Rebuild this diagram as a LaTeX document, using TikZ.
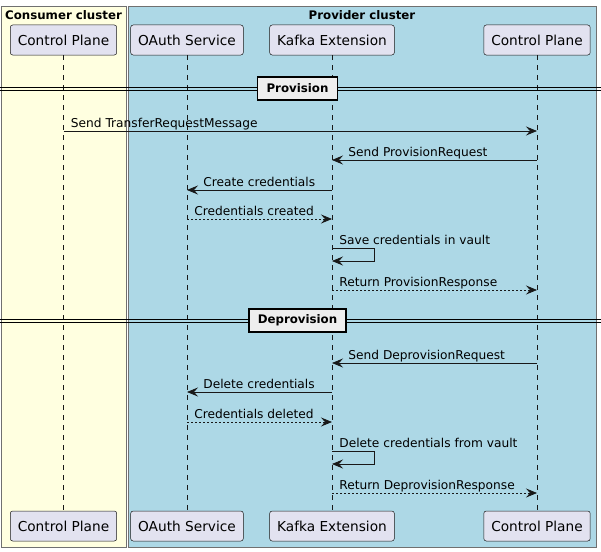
\documentclass[tikz,border=0pt]{standalone}
\usepackage{fontspec}
\setmainfont{DejaVu Sans}
\usetikzlibrary{arrows.meta}
\definecolor{consumerbg}{HTML}{FFFFE0}
\definecolor{providerbg}{HTML}{ADD8E6}
\definecolor{partbg}{HTML}{E2E2F0}
\definecolor{linecol}{HTML}{181818}
\definecolor{sepbg}{HTML}{EEEEEE}
\definecolor{framecol}{HTML}{707070}
\tikzset{
  participant/.style={draw=linecol, fill=partbg, rounded corners=2.5pt, line width=0.5pt,
    minimum height=30pt, inner xsep=7.5pt, font=\fontsize{13.7}{16}\selectfont},
  lifeline/.style={draw=linecol, line width=0.5pt, dash pattern=on 5pt off 5pt},
  msg/.style={draw=linecol, line width=0.8pt, -{Stealth[length=11pt,width=9pt,inset=4pt]}},
  reply/.style={msg, dash pattern=on 2pt off 2pt},
  msglabel/.style={anchor=base west, inner sep=0pt, font=\fontsize{12.2}{14}\selectfont},
  separator/.style={draw=black, line width=1.5pt, fill=sepbg, inner xsep=9pt,
    minimum height=23pt, font=\bfseries\fontsize{11.8}{14}\selectfont},
  clustertitle/.style={inner sep=0pt, font=\bfseries\fontsize{11.8}{14}\selectfont},
}
\begin{document}
\begin{tikzpicture}[x=1pt, y=-1pt]
    \useasboundingbox[fill=white] (0,0) rectangle (601,551);
    % clusters
    \draw[framecol, fill=consumerbg] (1,6) rectangle (126,547);
    \draw[framecol, fill=providerbg] (128,6) rectangle (596,547);
    \node[clustertitle] (consumer) at (63.5,15) {Consumer cluster};
    \node[clustertitle] (provider) at (362,15) {Provider cluster};
    % participants
    \node[participant] (cpC) at (63.5,40) {Control Plane};
    \node[participant] (oauth) at (187,40) {OAuth Service};
    \node[participant] (kafka) at (332,40) {Kafka Extension};
    \node[participant] (cpP) at (537,40) {Control Plane};
    \node[participant] (cpC-b) at (63.5,526) {Control Plane};
    \node[participant] (oauth-b) at (187,526) {OAuth Service};
    \node[participant] (kafka-b) at (332,526) {Kafka Extension};
    \node[participant] (cpP-b) at (537,526) {Control Plane};
    \foreach \p in {cpC,oauth,kafka,cpP}
    \draw[lifeline] (\p.south) -- (\p-b.north);
    % separators
    \foreach \y in {87,90.3,319,322.3}
    \draw[black, line width=1pt] (0,\y) -- (601,\y);
    \node[separator] (prov) at (297.5,88.5) {Provision};
    \node[separator] (deprov) at (297.5,320.5) {Deprovision};
    % provision
    \draw[msg] (cpC |- 0,131) -- node[msglabel, pos=0, xshift=7pt, yshift=4pt] (m1) {Send TransferRequestMessage} (cpP |- 0,131);
    \draw[msg] (cpP |- 0,160) -- node[msglabel, pos=1, xshift=16pt, yshift=4pt] (m2) {Send ProvisionRequest} (kafka |- 0,160);
    \draw[msg] (kafka |- 0,190) -- node[msglabel, pos=1, xshift=16pt, yshift=4pt] (m3) {Create credentials} (oauth |- 0,190);
    \draw[reply] (oauth |- 0,219) -- node[msglabel, pos=0, xshift=7pt, yshift=4pt] (m4) {Credentials created} (kafka |- 0,219);
    \draw[msg] (kafka |- 0,248) node[msglabel, xshift=7pt, yshift=4pt] (m5) {Save credentials in vault}
      -- ++(42,0) -- ++(0,13) -- (kafka |- 0,261);
    \draw[reply] (kafka |- 0,290) -- node[msglabel, pos=0, xshift=7pt, yshift=4pt] (m6) {Return ProvisionResponse} (cpP |- 0,290);
    % deprovision
    \draw[msg] (cpP |- 0,363) -- node[msglabel, pos=1, xshift=16pt, yshift=4pt] (m7) {Send DeprovisionRequest} (kafka |- 0,363);
    \draw[msg] (kafka |- 0,392) -- node[msglabel, pos=1, xshift=16pt, yshift=4pt] (m8) {Delete credentials} (oauth |- 0,392);
    \draw[reply] (oauth |- 0,422) -- node[msglabel, pos=0, xshift=7pt, yshift=4pt] (m9) {Credentials deleted} (kafka |- 0,422);
    \draw[msg] (kafka |- 0,451) node[msglabel, xshift=7pt, yshift=4pt] (m10) {Delete credentials from vault}
      -- ++(42,0) -- ++(0,13) -- (kafka |- 0,464);
    \draw[reply] (kafka |- 0,493) -- node[msglabel, pos=0, xshift=7pt, yshift=4pt] (m11) {Return DeprovisionResponse} (cpP |- 0,493);
\end{tikzpicture}
\end{document}
